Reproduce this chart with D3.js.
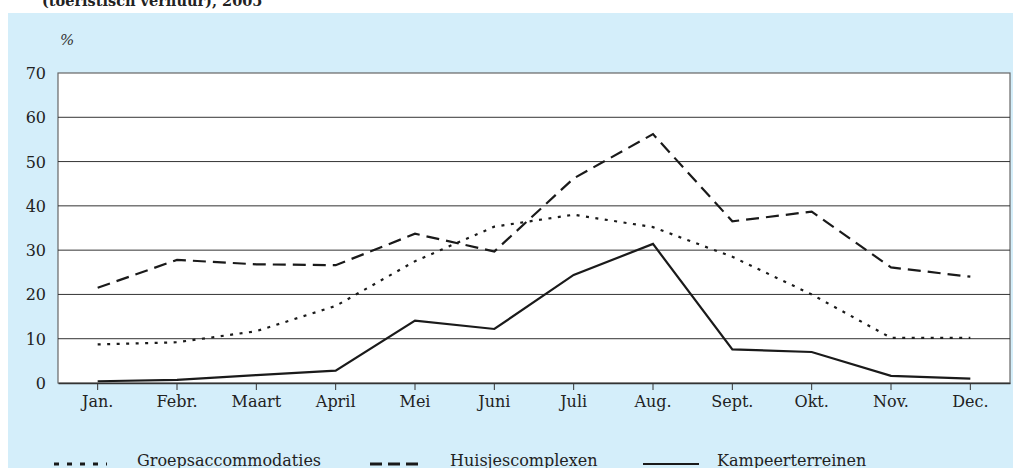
<!DOCTYPE html>
<html>
<head>
<meta charset="utf-8">
<script src="https://cdn.jsdelivr.net/npm/d3@7"></script>
<style>
  html, body { margin: 0; padding: 0; background: #fff; }
  svg { display: block; font-family: "DejaVu Serif", "Liberation Serif", serif; }
</style>
</head>
<body>
<div id="chart"></div>
<script>
// maanden en bezettingsgraad (%) per accommodatietype
var maanden = ["Jan.", "Febr.", "Maart", "April", "Mei", "Juni", "Juli", "Aug.", "Sept.", "Okt.", "Nov.", "Dec."]
var groeps = [8.7, 9.2, 11.7, 17.4, 27.5, 35.3, 38.0, 35.2, 28.5, 20.0, 10.2, 10.2]
var huisjes = [21.5, 27.8, 26.8, 26.6, 33.7, 29.7, 46.2, 56.2, 36.5, 38.7, 26.1, 24.0]
var kamp = [0.4, 0.7, 1.8, 2.8, 14.1, 12.2, 24.4, 31.4, 7.6, 7.0, 1.6, 1.0]
var yTicks = [0, 10, 20, 30, 40, 50, 60, 70]

var series = [
	{ naam: "Groepsaccommodaties", waarden: groeps, dash: "3,6.5", legDash: "5,8", legX: 54, legW: 53, txtX: 137 },
	{ naam: "Huisjescomplexen", waarden: huisjes, dash: "13,7", legDash: "12,6", legX: 370, legW: 48, txtX: 450 },
	{ naam: "Kampeerterreinen", waarden: kamp, dash: null, legDash: null, legX: 643, legW: 56, txtX: 717 }
]

var W = 1013, H = 468
var margin = { left: 58, right: 3, top: 73, bottom: 85 }

var svg = d3.select("#chart").append("svg")
	.attr("width", W)
	.attr("height", H)

// achtergrondpaneel
svg.append("rect")
	.attr("x", 8)
	.attr("y", 13)
	.attr("width", W - 8)
	.attr("height", H - 13)
	.style("fill", "#d4eefa")

// titel (afgesneden bovenaan)
svg.append("text")
	.attr("x", 42)
	.attr("y", 6)
	.style("font-size", "14.5px")
	.style("font-weight", "bold")
	.style("fill", "#222")
	.text("(toeristisch verhuur), 2005")

var x = d3.scaleBand()
	.domain(maanden)
	.range([margin.left, W - margin.right])

var y = d3.scaleLinear()
	.domain([0, 70])
	.range([H - margin.bottom, margin.top])

// plotvlak
svg.append("rect")
	.attr("x", margin.left)
	.attr("y", margin.top)
	.attr("width", x.range()[1] - margin.left)
	.attr("height", y(0) - margin.top)
	.style("fill", "#fff")
	.style("stroke", "#666")
	.style("stroke-width", 1.2)

// rasterlijnen
svg.append("g")
	.selectAll("line")
	.data(yTicks.slice(1, -1))
	.enter().append("line")
	.attr("x1", margin.left)
	.attr("x2", x.range()[1])
	.attr("y1", function (d) { return y(d) })
	.attr("y2", function (d) { return y(d) })
	.style("stroke", "#333")
	.style("stroke-width", 1)

// y-as labels
svg.append("g")
	.selectAll("text")
	.data(yTicks)
	.enter().append("text")
	.attr("x", 46)
	.attr("y", function (d) { return y(d) + 6 })
	.style("text-anchor", "end")
	.style("font-size", "16px")
	.style("fill", "#222")
	.text(function (d) { return d })

svg.append("text")
	.attr("x", 60)
	.attr("y", 45)
	.style("font-size", "15px")
	.style("font-style", "italic")
	.style("fill", "#333")
	.text("%")

// x-as met tickjes
var xAxis = svg.append("g")
	.attr("transform", "translate(0," + y(0) + ")")
	.call(d3.axisBottom(x).tickSize(7).tickSizeOuter(0).tickPadding(6))
xAxis.select(".domain").style("stroke", "#333").style("stroke-width", 1.4)
xAxis.selectAll(".tick line").style("stroke", "#333")
xAxis.selectAll(".tick text")
	.style("font-size", "16px")
	.style("font-family", "DejaVu Serif, Liberation Serif, serif")
	.style("fill", "#222")

var cx = function (d, i) { return x(maanden[i]) + x.bandwidth() / 2 }
var line = d3.line()
	.x(cx)
	.y(function (d) { return y(d) })

svg.append("g")
	.selectAll("path")
	.data(series)
	.enter().append("path")
	.attr("d", function (s) { return line(s.waarden) })
	.style("fill", "none")
	.style("stroke", "#1a1a1a")
	.style("stroke-width", 2.2)
	.style("stroke-dasharray", function (s) { return s.dash })

// legenda
var leg = svg.append("g")
	.selectAll("g")
	.data(series)
	.enter().append("g")
leg.append("line")
	.attr("x1", function (s) { return s.legX })
	.attr("x2", function (s) { return s.legX + s.legW })
	.attr("y1", 464)
	.attr("y2", 464)
	.style("stroke", "#1a1a1a")
	.style("stroke-width", function (s) { return s.dash ? 3 : 2 })
	.style("stroke-dasharray", function (s) { return s.legDash })
leg.append("text")
	.attr("x", function (s) { return s.txtX })
	.attr("y", 466)
	.style("font-size", "16px")
	.style("fill", "#222")
	.text(function (s) { return s.naam })
</script>
</body>
</html>
